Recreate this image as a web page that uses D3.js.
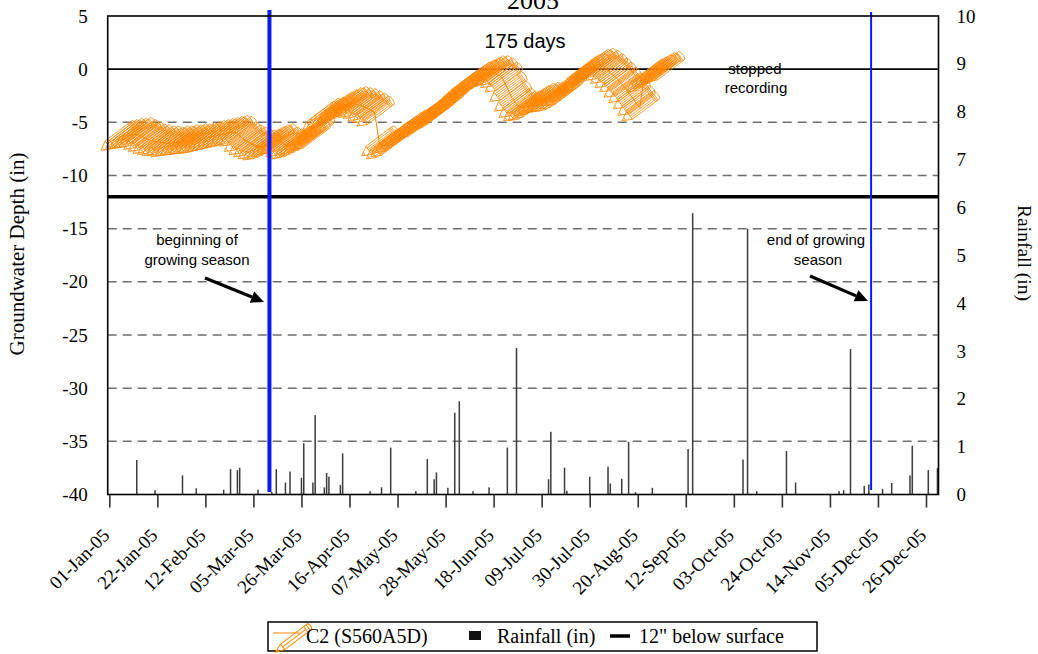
<!DOCTYPE html>
<html><head><meta charset="utf-8">
<script src="https://cdn.jsdelivr.net/npm/d3@7"></script>
<style>
html,body{margin:0;padding:0;background:#fff;}
svg{display:block;}
</style></head>
<body>
<svg id="chart" width="1038" height="654"></svg>
<script>
// ---------------- data ----------------
const titleText = "2005";
const xTickLabels = ["01-Jan-05","22-Jan-05","12-Feb-05","05-Mar-05","26-Mar-05","16-Apr-05","07-May-05","28-May-05","18-Jun-05","09-Jul-05","30-Jul-05","20-Aug-05","12-Sep-05","03-Oct-05","24-Oct-05","14-Nov-05","05-Dec-05","26-Dec-05"];
const leftTicks = [5,0,-5,-10,-15,-20,-25,-30,-35,-40];
const rightTicks = [0,1,2,3,4,5,6,7,8,9,10];
const dashedLevels = [-5,-10,-15,-20,-25,-30,-35];
const surfaceLevel = -12;           // 12" below surface
const growingStart = "2005-03-12";
const growingEnd = "2005-12-02";

const rainDates = ["2005-01-13","2005-01-21","2005-02-02","2005-02-08","2005-02-20","2005-02-23","2005-02-26","2005-02-27","2005-03-07","2005-03-13","2005-03-15","2005-03-19","2005-03-21","2005-03-26","2005-03-27","2005-03-31","2005-04-01","2005-04-05","2005-04-06","2005-04-07","2005-04-12","2005-04-13","2005-04-25","2005-04-30","2005-05-04","2005-05-15","2005-05-20","2005-05-23","2005-05-24","2005-05-29","2005-06-01","2005-06-03","2005-06-09","2005-06-16","2005-06-24","2005-06-28","2005-07-12","2005-07-13","2005-07-19","2005-07-20","2005-07-30","2005-08-07","2005-08-08","2005-08-13","2005-08-16","2005-08-19","2005-08-27","2005-09-13","2005-09-15","2005-10-07","2005-10-09","2005-10-13","2005-10-26","2005-10-30","2005-11-18","2005-11-20","2005-11-23","2005-11-29","2005-12-01","2005-12-07","2005-12-11","2005-12-19","2005-12-20","2005-12-27","2005-12-31"];
const rainValues = [0.72,0.09,0.40,0.13,0.10,0.53,0.51,0.56,0.10,0.05,0.53,0.25,0.48,0.35,1.07,0.25,1.66,0.15,0.45,0.37,0.20,0.86,0.07,0.15,0.98,0.07,0.74,0.32,0.46,0.14,1.71,1.95,0.07,0.15,0.98,3.06,0.32,1.31,0.56,0.08,0.37,0.58,0.23,0.33,1.10,0.05,0.14,0.95,5.88,0.73,5.55,0.07,0.91,0.25,0.07,0.09,3.04,0.18,0.21,0.12,0.24,0.40,1.02,0.51,0.55];

// groundwater depth C2 (S560A5D), one reading every 2 days from gwStart
const gwStart = "2005-01-05";
const gwStepDays = 2;
const gwValues = [-6.4,-6.3,-6.2,-6.2,-6.1,-6.3,-6.5,-6.7,-6.8,-6.9,-6.9,-7.0,-6.9,-6.9,-6.8,-6.8,-6.7,-6.7,-6.6,-6.5,-6.4,-6.3,-6.2,-6.1,-6.0,-5.9,-6.0,-6.5,-6.8,-7.0,-7.2,-7.3,-7.2,-7.0,-6.8,-6.7,-7.0,-7.2,-7.1,-6.9,-6.7,-6.5,-6.3,-5.8,-4.6,-4.3,-4.2,-4.0,-3.7,-3.5,-3.3,-3.2,-3.3,-3.4,-3.6,-3.8,-4.1,-6.9,-7.2,-7.0,-6.6,-6.3,-6.0,-5.7,-5.4,-5.2,-4.9,-4.6,-4.4,-4.1,-3.7,-3.4,-3.0,-2.6,-2.2,-1.8,-1.5,-1.2,-0.9,-0.7,-0.5,-0.3,-0.3,-0.5,-0.9,-1.8,-2.7,-3.3,-3.6,-3.6,-3.4,-3.1,-2.9,-2.8,-2.8,-2.7,-2.5,-2.2,-1.8,-1.3,-0.9,-0.5,-0.2,0.0,0.3,0.4,0.2,-0.1,-0.5,-0.9,-1.4,-1.9,-2.5,-3.1,-3.6,-0.9,-0.6,-0.4,-0.2,0.0,0.1];

// ---------------- chart ----------------
const svg = d3.select("#chart");
const orange = "#ff8600";
const serifF = '"Liberation Serif","Times New Roman",serif';
const sansF = '"Liberation Sans",Arial,sans-serif';

const parseISO = d3.utcParse("%Y-%m-%d");
const parseTick = d3.utcParse("%d-%b-%y");
const tickDates = xTickLabels.map(parseTick);

const plotL = 107.7, plotR = 938.5, plotT = 16, plotB = 494.5;
const firstTickX = 109.3, lastTickX = 926;
// category-style date axis: ticks are evenly spaced
const x = d3.scaleUtc()
  .domain(tickDates)
  .range(tickDates.map((d, i) => firstTickX + i * (lastTickX - firstTickX) / (tickDates.length - 1)));
const yL = d3.scaleLinear().domain([-40, 5]).range([plotB, plotT]);
const yR = d3.scaleLinear().domain([0, 10]).range([plotB, plotT]);

// dashed gridlines
svg.append("g").selectAll("line").data(dashedLevels).join("line")
  .attr("x1", plotL).attr("x2", plotR)
  .attr("y1", d => yL(d)).attr("y2", d => yL(d))
  .attr("stroke", "#6e6e6e").attr("stroke-width", 1.5).attr("stroke-dasharray", "9,6");

// rainfall bars
const rain = rainDates.map((d, i) => ({date: parseISO(d), v: rainValues[i]}));
svg.append("g").selectAll("rect").data(rain).join("rect")
  .attr("x", d => x(d.date) - 0.75).attr("width", 1.5)
  .attr("y", d => yR(d.v)).attr("height", d => yR(0) - yR(d.v))
  .attr("fill", "#3c3c3c");

// zero line
svg.append("line").attr("x1", plotL).attr("x2", plotR)
  .attr("y1", yL(0)).attr("y2", yL(0)).attr("stroke", "#000").attr("stroke-width", 1.6);

// 12" below surface line
svg.append("line").attr("x1", plotL).attr("x2", plotR)
  .attr("y1", yL(surfaceLevel)).attr("y2", yL(surfaceLevel)).attr("stroke", "#000").attr("stroke-width", 3.5);

// groundwater series with pencil markers
const gwStartDate = parseISO(gwStart);
const gw = gwValues.map((v, i) => ({date: d3.utcDay.offset(gwStartDate, i * gwStepDays), v}));
const pencil = [
  "M-22,0L-13,-5L16,-5L16,5L-13,5Z",          // tip + body
  "M-13,-5L-13,5",                           // body edge
  "M-19,-1.6L-19,1.6",                       // lead
  "M-13,-3L16,-3M-13,-1L16,-1M-13,1L16,1M-13,3L16,3", // body facets
  "M16,-5L19,-5L19,5L16,5M17.5,-5L17.5,5",   // ferrule
  "M19,-5L21,-5Q24,0 21,5L19,5"              // eraser
].join("");
const gwG = svg.append("g");
gwG.append("path").datum(gw)
  .attr("d", d3.line().x(d => x(d.date)).y(d => yL(d.v)))
  .attr("fill", "none").attr("stroke", orange).attr("stroke-width", 1);
gwG.selectAll("path.pen").data(gw).join("path").attr("class", "pen")
  .attr("d", pencil)
  .attr("transform", d => `translate(${x(d.date)},${yL(d.v)}) rotate(-37)`)
  .attr("fill", "none").attr("stroke", orange).attr("stroke-width", 0.75);

// growing season lines
svg.append("line").attr("x1", x(parseISO(growingStart))).attr("x2", x(parseISO(growingStart)))
  .attr("y1", 10).attr("y2", 492).attr("stroke", "#0a1aff").attr("stroke-width", 4);
svg.append("line").attr("x1", x(parseISO(growingEnd))).attr("x2", x(parseISO(growingEnd)))
  .attr("y1", 12).attr("y2", 490).attr("stroke", "#0a1aff").attr("stroke-width", 2);

// plot border
svg.append("rect").attr("x", plotL).attr("y", plotT).attr("width", plotR - plotL).attr("height", plotB - plotT)
  .attr("fill", "none").attr("stroke", "#000").attr("stroke-width", 1.6);

// x axis
const xAxis = svg.append("g").attr("transform", `translate(0,${plotB})`)
  .call(d3.axisBottom(x).tickValues(tickDates).tickFormat(d3.utcFormat("%d-%b-%y")).tickSize(13).tickSizeOuter(0));
xAxis.select(".domain").remove();
xAxis.attr("font-family", serifF).attr("font-size", 19);
xAxis.selectAll(".tick line").attr("stroke", "#333").attr("stroke-width", 1.6);
xAxis.selectAll(".tick text")
  .style("font-family", serifF).style("font-size", "19px")
  .attr("fill", "#000")
  .attr("text-anchor", "end").attr("dy", 0).attr("y", 0)
  .attr("transform", "translate(1,42) rotate(-45)");

// left axis
const lAxis = svg.append("g").attr("transform", `translate(${plotL},0)`)
  .call(d3.axisLeft(yL).tickValues(leftTicks).tickSize(0).tickPadding(20).tickFormat(d => String(d)));
lAxis.select(".domain").remove();
lAxis.attr("font-family", serifF).attr("font-size", 19);
lAxis.selectAll(".tick text").style("font-family", serifF).style("font-size", "19px").attr("fill", "#000");

// right axis
const rAxis = svg.append("g").attr("transform", `translate(${plotR},0)`)
  .call(d3.axisRight(yR).tickValues(rightTicks).tickSize(0).tickPadding(18).tickFormat(d => String(d)));
rAxis.select(".domain").remove();
rAxis.attr("font-family", serifF).attr("font-size", 19);
rAxis.selectAll(".tick text").style("font-family", serifF).style("font-size", "19px").attr("fill", "#000");

// axis titles
svg.append("text").attr("transform", "translate(24,254) rotate(-90)")
  .attr("text-anchor", "middle").style("font-family", serifF).style("font-size", "21px")
  .text("Groundwater Depth (in)");
svg.append("text").attr("transform", "translate(1018,253) rotate(90)")
  .attr("text-anchor", "middle").style("font-family", serifF).style("font-size", "19.5px")
  .text("Rainfall (in)");

// title
svg.append("text").attr("x", 533).attr("y", 9).attr("text-anchor", "middle")
  .style("font-family", serifF).style("font-size", "26px").text(titleText);

// annotations
const ann = [
  {t: "175 days", x: 525, y: 48, s: 20},
  {t: "stopped", x: 755, y: 74, s: 15},
  {t: "recording", x: 756, y: 93, s: 15},
  {t: "beginning of", x: 197, y: 245, s: 15},
  {t: "growing season", x: 197, y: 265, s: 15},
  {t: "end of growing", x: 816, y: 245, s: 15},
  {t: "season", x: 818, y: 265, s: 15}
];
svg.append("g").selectAll("text").data(ann).join("text")
  .attr("x", d => d.x).attr("y", d => d.y).attr("text-anchor", "middle")
  .style("font-family", sansF).style("font-size", d => d.s + "px")
  .attr("fill", "#000").text(d => d.t);

// arrows
function arrow(x1, y1, x2, y2) {
  const a = Math.atan2(y2 - y1, x2 - x1), L = 13, w = 6;
  const bx = x2 - L * Math.cos(a), by = y2 - L * Math.sin(a);
  svg.append("line").attr("x1", x1).attr("y1", y1).attr("x2", bx).attr("y2", by)
    .attr("stroke", "#000").attr("stroke-width", 3.2);
  svg.append("path").attr("d", `M${x2},${y2}L${bx - w*Math.sin(a)},${by + w*Math.cos(a)}L${bx + w*Math.sin(a)},${by - w*Math.cos(a)}Z`)
    .attr("fill", "#000");
}
arrow(205, 278, 264, 302);
arrow(810, 276, 868, 301);

// legend
const lg = svg.append("g");
lg.append("rect").attr("x", 268).attr("y", 622).attr("width", 549).attr("height", 29)
  .attr("fill", "#fff").attr("stroke", "#000").attr("stroke-width", 1.5);
lg.append("line").attr("x1", 273).attr("x2", 300).attr("y1", 633).attr("y2", 633)
  .attr("stroke", orange).attr("stroke-width", 1);
lg.append("path").attr("d", "M-22,0L-13,-3.5L16,-3.5L16,3.5L-13,3.5ZM-13,-3.5L-13,3.5M-19,-1.3L-19,1.3M-13,0L16,0M16,-3.5L19,-3.5L19,3.5L16,3.5M19,-3.5L21,-3.5Q23,0 21,3.5L19,3.5")
  .attr("transform", "translate(293,639) rotate(-37)")
  .attr("fill", "none").attr("stroke", orange).attr("stroke-width", 1);
lg.append("text").attr("x", 306).attr("y", 643).style("font-family", serifF).style("font-size", "20px").text("C2 (S560A5D)");
lg.append("rect").attr("x", 469).attr("y", 631).attr("width", 12).attr("height", 9).attr("fill", "#111");
lg.append("text").attr("x", 497).attr("y", 643).style("font-family", serifF).style("font-size", "20px").text("Rainfall (in)");
lg.append("line").attr("x1", 610).attr("x2", 630).attr("y1", 636).attr("y2", 636).attr("stroke", "#000").attr("stroke-width", 3.5);
lg.append("text").attr("x", 639).attr("y", 643).style("font-family", serifF).style("font-size", "20px").text("12\" below surface");
</script>
</body></html>
